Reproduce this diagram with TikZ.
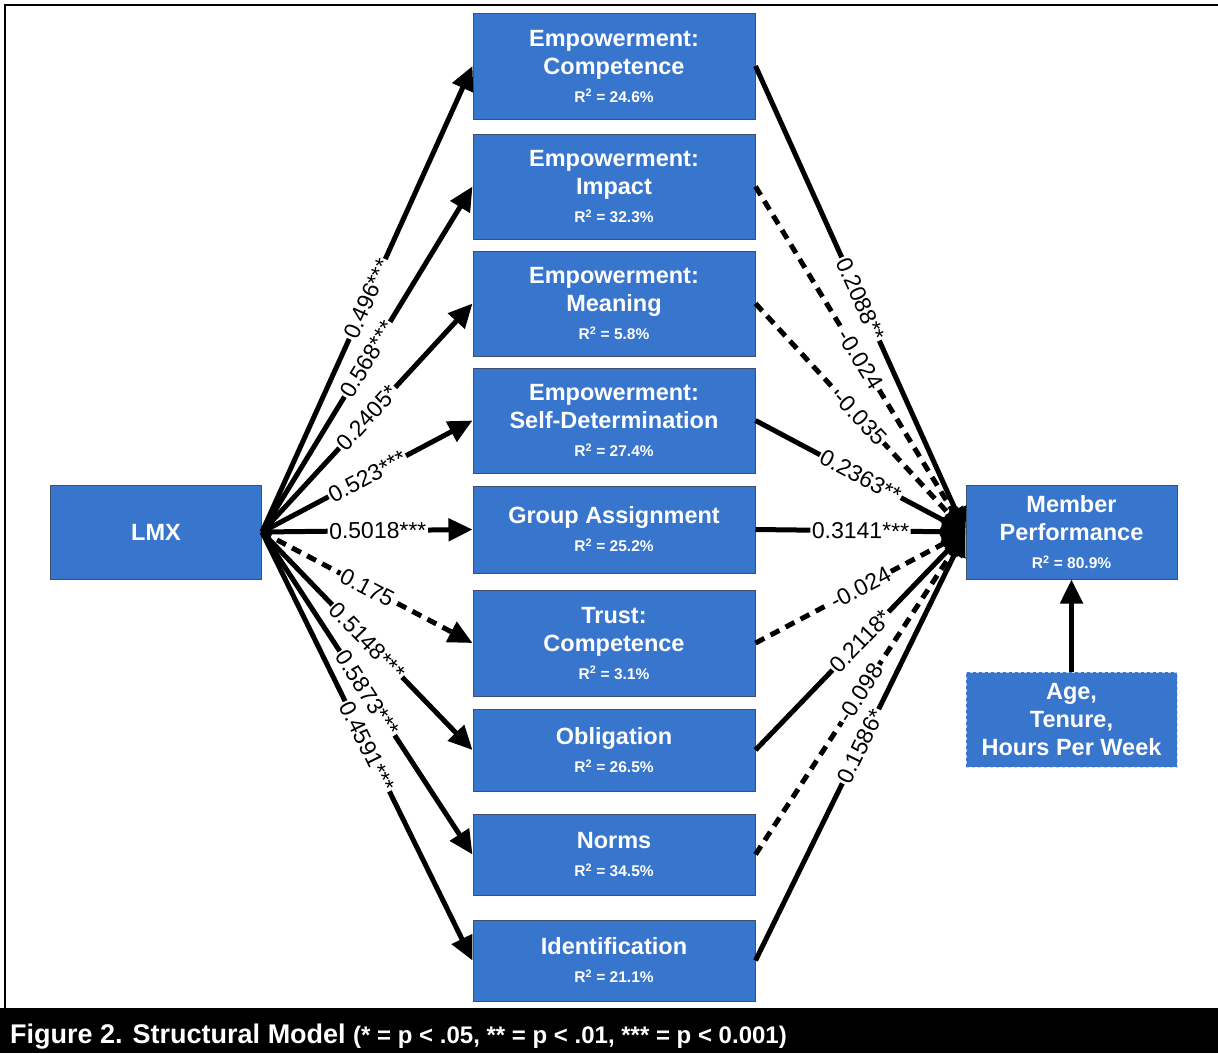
\documentclass[tikz,border=0pt]{standalone}
\usepackage{fontspec}
\setmainfont{Liberation Sans}
\usetikzlibrary{arrows.meta}

\definecolor{boxblue}{RGB}{56,117,205}
\definecolor{boxedge}{RGB}{62,80,112}

\newcommand{\rsqr}[1]{{\fontsize{15.5}{15.5}\selectfont R\textsuperscript{2} = #1\%}}

\begin{document}
\begin{tikzpicture}[x=1pt, y=-1pt,
    blk/.style={draw=boxedge, line width=1pt, fill=boxblue, text=white,
        font=\bfseries\fontsize{23.5}{28}\selectfont, align=center, inner sep=0pt},
    medbox/.style={blk, minimum width=282pt},
    sidebox/.style={blk, minimum width=211pt},
    link/.style={line width=5pt, -{Triangle[length=24pt, width=22pt]}},
    ns/.style={dash pattern=on 10pt off 7pt},
    coef/.style={sloped, fill=white, inner sep=1.5pt, font=\fontsize{23}{23}\selectfont}]
    \useasboundingbox (0, 0) rectangle (1218, 1053);

    % frame and caption bar
    \draw[line width=2pt] (5, 1008) -- (5, 5) -- (1218, 5);
    \fill[black] (0, 1008) rectangle (1218, 1053);
    \node[anchor=base west, text=white, inner sep=0pt] (cap) at (10, 1043)
        {\bfseries\fontsize{27}{27}\selectfont Figure 2. Structural Model
         {\fontsize{24}{24}\selectfont (* = p < .05, ** = p < .01, *** = p < 0.001)}};

    % boxes
    \node[sidebox, minimum height=94pt] (LMX) at (156, 532) {LMX};

    \node[medbox, minimum height=106pt] (M1) at (614, 66) {Empowerment:\\Competence\\\rsqr{24.6}};
    \node[medbox, minimum height=105pt] (M2) at (614, 186.5) {Empowerment:\\Impact\\\rsqr{32.3}};
    \node[medbox, minimum height=105pt] (M3) at (614, 303.5) {Empowerment:\\Meaning\\\rsqr{5.8}};
    \node[medbox, minimum height=105pt] (M4) at (614, 420.5) {Empowerment:\\Self-Determination\\\rsqr{27.4}};
    \node[medbox, minimum height=87pt] (M5) at (614, 529.5) {Group Assignment\\\rsqr{25.2}};
    \node[medbox, minimum height=106pt] (M6) at (614, 643) {Trust:\\Competence\\\rsqr{3.1}};
    \node[medbox, minimum height=82pt] (M7) at (614, 750) {Obligation\\\rsqr{26.5}};
    \node[medbox, minimum height=81pt] (M8) at (614, 854.5) {Norms\\\rsqr{34.5}};
    \node[medbox, minimum height=81pt] (M9) at (614, 960.5) {Identification\\\rsqr{21.1}};

    \node[sidebox, minimum height=94pt] (P) at (1071.5, 532) {Member\\Performance\\\rsqr{80.9}};
    \node[sidebox, draw=white!70!boxblue, dashed, minimum height=95pt] (C) at (1071.5, 719.5)
        {Age,\\Tenure,\\Hours Per Week};

    % LMX to mediators
    \draw[link] (LMX.east) -- node[coef] {0.496***} (M1.west);
    \draw[link] (LMX.east) -- node[coef] {0.568***} (M2.west);
    \draw[link] (LMX.east) -- node[coef] {0.2405*} (M3.west);
    \draw[link] (LMX.east) -- node[coef] {0.523***} (M4.west);
    \draw[link] (LMX.east) -- node[coef, pos=.55] {0.5018***} (M5.west);
    \draw[link, ns] (LMX.east) -- node[coef] {0.175} (M6.west);
    \draw[link] (LMX.east) -- node[coef] {0.5148***} (M7.west);
    \draw[link] (LMX.east) -- node[coef] {0.5873***} (M8.west);
    \draw[link] (LMX.east) -- node[coef] {0.4591***} (M9.west);

    % mediators to performance
    \draw[link] (M1.east) -- node[coef] {0.2088**} (P.west);
    \draw[link, ns] (M2.east) -- node[coef] {-0.024} (P.west);
    \draw[link, ns] (M3.east) -- node[coef] {-0.035} (P.west);
    \draw[link] (M4.east) -- node[coef] {0.2363**} (P.west);
    \draw[link] (M5.east) -- node[coef] {0.3141***} (P.west);
    \draw[link, ns] (M6.east) -- node[coef] {-0.024} (P.west);
    \draw[link] (M7.east) -- node[coef] {0.2118*} (P.west);
    \draw[link, ns] (M8.east) -- node[coef] {-0.098} (P.west);
    \draw[link] (M9.east) -- node[coef] {0.1586*} (P.west);

    % controls
    \draw[link] (C) -- (P);
\end{tikzpicture}
\end{document}
